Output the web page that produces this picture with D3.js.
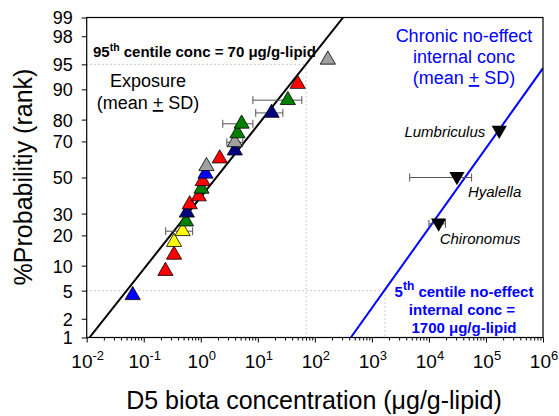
<!DOCTYPE html>
<html>
<head>
<meta charset="utf-8">
<script src="https://cdn.jsdelivr.net/npm/d3@7"></script>
<style>
body{margin:0;background:#fff;}
text{font-family:Arial,"Liberation Sans",sans-serif;}
</style>
</head>
<body>
<div id="chart"></div>
<script>
// exposure data, ranked (ug/g-lipid)
const exposure_values = [0.064, 0.24, 0.34, 0.34, 0.48, 0.55, 0.57, 0.64, 0.92, 1.03, 1.08, 1.21, 1.26, 2.15, 3.95, 3.95, 4.4, 5.2, 17.4, 33.6, 50, 169];
const exposure_groups = ['blue','red','red','yellow','yellow','green','navy','red','red','green','red','blue','gray','red','navy','gray','green','green','navy','green','red','gray'];
const exposure_sd = [null,null,null,null,[0.243,0.72],null,null,null,null,null,null,null,null,null,null,[2.86,5.45],null,[2.43,8.2],[9.2,27.5],[8.2,59],null,null];

// chronic no-effect internal conc
const species_names = ['Chironomus','Hyalella','Lumbriculus'];
const species_values = [14800, 31000, 171000];
const species_sd = [[10000,19500],[4600,56000],null];

// fitted lines (conc, %prob) end points
const exposure_fit = [[0.0112, 1], [313, 99]];
const effect_fit = [[427, 1], [1e6, 94.4]];
// centiles
const centile_conc = [70, 1700];
const centile_prob = [95, 5];

const y_ticks = [1,2,5,10,20,30,50,70,80,90,95,98,99];
const x_exponents = [-2,-1,0,1,2,3,4,5,6];

const group_colors = {blue:'#0000ff', red:'#ff0000', yellow:'#ffff00', green:'#008000', navy:'#000080', gray:'#a0a0a0'};

// inverse normal cdf (Acklam)
function probit(p){
    const a=[-3.969683028665376e+01,2.209460984245205e+02,-2.759285104469687e+02,1.383577518672690e+02,-3.066479806614716e+01,2.506628277459239e+00];
    const b=[-5.447609879822406e+01,1.615858368580409e+02,-1.556989798598866e+02,6.680131188771972e+01,-1.328068155288572e+01];
    const c=[-7.784894002430293e-03,-3.223964580411365e-01,-2.400758277161838e+00,-2.549732539343734e+00,4.374664141464968e+00,2.938163982698783e+00];
    const d=[7.784695709041462e-03,3.224671290700398e-01,2.445134137142996e+00,3.754408661907416e+00];
    const pl=0.02425, ph=1-pl;
    let q, r;
    if(p < pl){
        q = Math.sqrt(-2*Math.log(p));
        return (((((c[0]*q+c[1])*q+c[2])*q+c[3])*q+c[4])*q+c[5])/((((d[0]*q+d[1])*q+d[2])*q+d[3])*q+1);
    }
    if(p <= ph){
        q = p-0.5; r = q*q;
        return (((((a[0]*r+a[1])*r+a[2])*r+a[3])*r+a[4])*r+a[5])*q/(((((b[0]*r+b[1])*r+b[2])*r+b[3])*r+b[4])*r+1);
    }
    q = Math.sqrt(-2*Math.log(1-p));
    return -(((((c[0]*q+c[1])*q+c[2])*q+c[3])*q+c[4])*q+c[5])/((((d[0]*q+d[1])*q+d[2])*q+d[3])*q+1);
}

const svg_width = 559, svg_height = 416;
const plot_left = 86.7, plot_right = 543, plot_top = 17.5, plot_bottom = 337.5;

const svg = d3.select('#chart').append('svg')
    .attr('width', svg_width)
    .attr('height', svg_height);

const x_scale = d3.scaleLog().domain([1e-2, 1e6]).range([plot_left, plot_right]);
const z_scale = d3.scaleLinear().domain([probit(0.01), probit(0.99)]).range([plot_bottom, plot_top]);
const y_scale = p => z_scale(probit(p / 100));

// rank probabilities i/(n+1)
const exp_data = exposure_values.map((v, i) => ({
    conc: v, p: (i + 1) / (exposure_values.length + 1) * 100,
    group: exposure_groups[i], sd: exposure_sd[i]
}));
const sp_data = species_values.map((v, i) => ({
    conc: v, p: (i + 1) / (species_values.length + 1) * 100,
    name: species_names[i], sd: species_sd[i]
}));

// clip
svg.append('clipPath').attr('id', 'plot-clip')
    .append('rect').attr('x', plot_left).attr('y', plot_top)
    .attr('width', plot_right - plot_left).attr('height', plot_bottom - plot_top);

const plot = svg.append('g').attr('clip-path', 'url(#plot-clip)');

// dotted centile guides
centile_conc.forEach((c, i) => {
    const yy = y_scale(centile_prob[i]);
    const xx = x_scale(c);
    plot.append('line')
        .attr('x1', plot_left).attr('x2', xx).attr('y1', yy).attr('y2', yy)
        .style('stroke', '#999').style('stroke-width', 1).style('stroke-dasharray', '1,3');
    plot.append('line')
        .attr('x1', xx).attr('x2', xx).attr('y1', yy).attr('y2', plot_bottom)
        .style('stroke', '#999').style('stroke-width', 1).style('stroke-dasharray', '1,3');
});

// fitted lines
const fit_line = d3.line().x(d => x_scale(d[0])).y(d => y_scale(d[1]));
plot.append('path').datum(exposure_fit).attr('d', fit_line)
    .style('fill', 'none').style('stroke', '#000').style('stroke-width', 2);
plot.append('path').datum(effect_fit).attr('d', fit_line)
    .style('fill', 'none').style('stroke', '#0000ff').style('stroke-width', 2);

// error bars
function draw_sd(data){
    const g = plot.append('g').selectAll('g')
        .data(data.filter(d => d.sd)).enter().append('g')
        .style('stroke', '#555').style('stroke-width', 1);
    g.append('line')
        .attr('x1', d => x_scale(d.sd[0])).attr('x2', d => x_scale(d.sd[1]))
        .attr('y1', d => y_scale(d.p)).attr('y2', d => y_scale(d.p));
    g.append('line')
        .attr('x1', d => x_scale(d.sd[0])).attr('x2', d => x_scale(d.sd[0]))
        .attr('y1', d => y_scale(d.p) - 4).attr('y2', d => y_scale(d.p) + 4);
    g.append('line')
        .attr('x1', d => x_scale(d.sd[1])).attr('x2', d => x_scale(d.sd[1]))
        .attr('y1', d => y_scale(d.p) - 4).attr('y2', d => y_scale(d.p) + 4);
}
draw_sd(exp_data);
draw_sd(sp_data);

// triangles
const tri = d3.symbol().type(d3.symbolTriangle).size(100);
plot.append('g').selectAll('path')
    .data(exp_data).enter().append('path')
    .attr('d', tri)
    .attr('transform', d => `translate(${x_scale(d.conc)},${y_scale(d.p)})`)
    .style('fill', d => group_colors[d.group])
    .style('stroke', '#000').style('stroke-width', 0.8);

plot.append('g').selectAll('path')
    .data(sp_data).enter().append('path')
    .attr('d', tri)
    .attr('transform', d => `translate(${x_scale(d.conc)},${y_scale(d.p) - 1}) rotate(180)`)
    .style('fill', '#000');

// frame
svg.append('rect')
    .attr('x', plot_left).attr('y', plot_top)
    .attr('width', plot_right - plot_left).attr('height', plot_bottom - plot_top)
    .style('fill', 'none').style('stroke', '#000').style('stroke-width', 1.2);

// y axis
const y_axis = d3.axisLeft(z_scale)
    .tickValues(y_ticks.map(p => probit(p / 100)))
    .tickFormat((d, i) => y_ticks[i])
    .tickSizeInner(5).tickSizeOuter(0);
const y_axis_draw = svg.append('g')
    .attr('transform', `translate(${plot_left},0)`)
    .call(y_axis);
y_axis_draw.select('.domain').remove();
y_axis_draw.selectAll('text').style('font-size', '18px').style('fill', '#000')
    .attr('x', -14).attr('dy', '0.36em');

// x axis: minor + major ticks
const minor_vals = [];
x_exponents.slice(0, -1).forEach(e => {
    for(let k = 2; k <= 9; k++) minor_vals.push(k * Math.pow(10, e));
});
svg.append('g')
    .attr('transform', `translate(0,${plot_bottom})`)
    .call(d3.axisBottom(x_scale).tickValues(minor_vals).tickFormat('').tickSizeInner(3).tickSizeOuter(0))
    .call(g => g.select('.domain').remove());
const x_axis_draw = svg.append('g')
    .attr('transform', `translate(0,${plot_bottom})`)
    .call(d3.axisBottom(x_scale).tickValues(x_exponents.map(e => Math.pow(10, e))).tickFormat('').tickSizeInner(5).tickSizeOuter(0));
x_axis_draw.select('.domain').remove();

const x_labels = svg.append('g').selectAll('text')
    .data(x_exponents).enter().append('text')
    .attr('x', d => x_scale(Math.pow(10, d)) + 1)
    .attr('y', 368)
    .style('font-size', '19px')
    .style('text-anchor', 'middle');
x_labels.append('tspan').text('10');
x_labels.append('tspan').text(d => d).attr('dy', -8).style('font-size', '13px');

// axis titles
svg.append('text')
    .attr('x', 314).attr('y', 409)
    .style('font-size', '25px').style('text-anchor', 'middle')
    .text('D5 biota concentration (\u03bcg/g-lipid)');
svg.append('text')
    .attr('transform', 'translate(32,177) rotate(-90)')
    .style('font-size', '25px').style('text-anchor', 'middle')
    .text('%Probabilitiy (rank)');

// annotations
const t95 = svg.append('text').attr('x', 93).attr('y', 57)
    .style('font-size', '15px').style('font-weight', 'bold');
t95.append('tspan').text('95');
t95.append('tspan').text('th').attr('dy', -6).style('font-size', '10.5px');
t95.append('tspan').text(' centile conc = 70 \u03bcg/g-lipid').attr('dy', 6);

svg.append('text').attr('x', 148).attr('y', 87)
    .style('font-size', '18px').style('text-anchor', 'middle').text('Exposure');
const msd = svg.append('text').attr('x', 148).attr('y', 109)
    .style('font-size', '18px').style('text-anchor', 'middle');
msd.append('tspan').text('(mean ');
msd.append('tspan').text('+').style('text-decoration', 'underline');
msd.append('tspan').text(' SD)');

const blue_lines = ['Chronic no-effect', 'internal conc'];
blue_lines.forEach((s, i) => {
    svg.append('text').attr('x', 464).attr('y', 42 + i * 21)
        .style('font-size', '18px').style('text-anchor', 'middle')
        .style('fill', '#0000ff').text(s);
});
const bsd = svg.append('text').attr('x', 464).attr('y', 84)
    .style('font-size', '18px').style('text-anchor', 'middle').style('fill', '#0000ff');
bsd.append('tspan').text('(mean ');
bsd.append('tspan').text('+').style('text-decoration', 'underline');
bsd.append('tspan').text(' SD)');

const t5 = svg.append('text').attr('x', 464).attr('y', 297)
    .style('font-size', '15px').style('font-weight', 'bold')
    .style('text-anchor', 'middle').style('fill', '#0000ff');
t5.append('tspan').text('5');
t5.append('tspan').text('th').attr('dy', -7).style('font-size', '12px');
t5.append('tspan').text(' centile no-effect').attr('dy', 7);
svg.append('text').attr('x', 462).attr('y', 315)
    .style('font-size', '15px').style('font-weight', 'bold')
    .style('text-anchor', 'middle').style('fill', '#0000ff').text('internal conc =');
svg.append('text').attr('x', 464).attr('y', 333)
    .style('font-size', '15px').style('font-weight', 'bold')
    .style('text-anchor', 'middle').style('fill', '#0000ff').text('1700 \u03bcg/g-lipid');

// species labels
const sp_label_pos = [
    {dx: 1, dy: 20, anchor: 'start'},
    {dx: 11, dy: 19, anchor: 'start'},
    {dx: -14, dy: 6, anchor: 'end'}
];
svg.append('g').selectAll('text')
    .data(sp_data).enter().append('text')
    .attr('x', (d, i) => x_scale(d.conc) + sp_label_pos[i].dx)
    .attr('y', (d, i) => y_scale(d.p) + sp_label_pos[i].dy)
    .style('text-anchor', (d, i) => sp_label_pos[i].anchor)
    .style('font-size', '15px').style('font-style', 'italic')
    .text(d => d.name);
</script>
</body>
</html>
